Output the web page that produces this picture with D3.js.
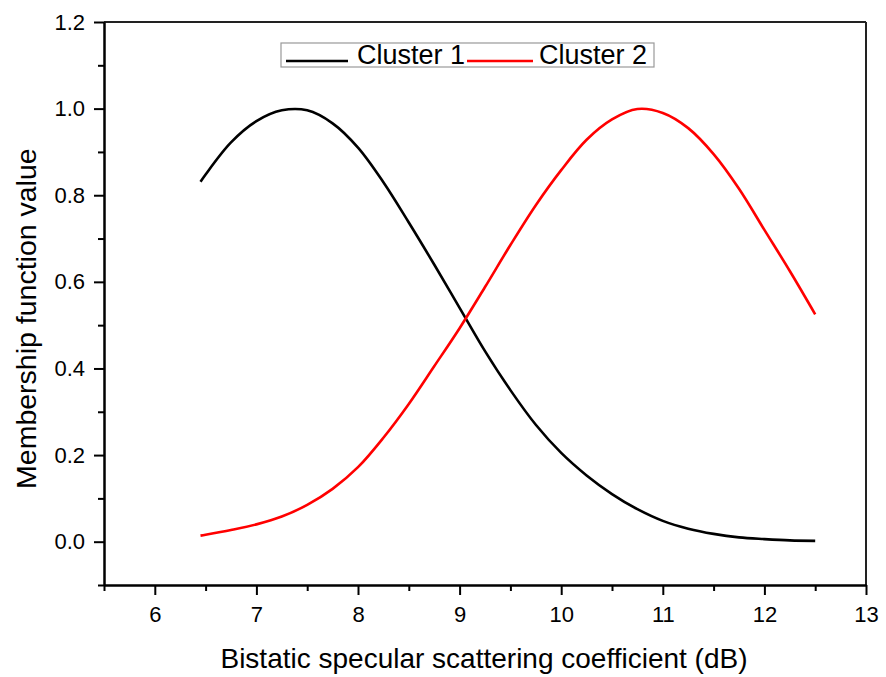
<!DOCTYPE html>
<html>
<head>
<meta charset="utf-8">
<title>Membership function value</title>
<style>
  body { margin: 0; background: #fff; }
  svg text { font-family: "Liberation Sans", Arial, sans-serif; fill: #000; }
  .axis path { stroke: #000; stroke-width: 2; }
  .axis line { stroke: #000; stroke-width: 2; }
</style>
</head>
<body>
<script src="https://cdn.jsdelivr.net/npm/d3@7"></script>
<script>
  // values
  var xValues = [6.45, 6.5, 6.75, 7.0, 7.25, 7.5, 7.75, 8.0, 8.25, 8.5, 8.75, 9.0, 9.25, 9.5, 9.75,
                 10.0, 10.25, 10.5, 10.75, 11.0, 11.25, 11.5, 11.75, 12.0, 12.25, 12.5];
  var cluster1 = [0.831, 0.848, 0.922, 0.971, 0.996, 0.996, 0.966, 0.910, 0.830, 0.737, 0.640, 0.540, 0.440, 0.350, 0.270,
                  0.205, 0.153, 0.110, 0.075, 0.048, 0.030, 0.018, 0.010, 0.006, 0.003, 0.002];
  var cluster2 = [0.014, 0.016, 0.027, 0.040, 0.058, 0.085, 0.122, 0.172, 0.240, 0.318, 0.405, 0.493, 0.588, 0.685, 0.777,
                  0.858, 0.928, 0.975, 0.999, 0.990, 0.955, 0.895, 0.815, 0.720, 0.625, 0.525];
  var seriesNames = ["Cluster 1", "Cluster 2"];
  var seriesColors = ["#000000", "#ff0000"];
  var xMajor = [6, 7, 8, 9, 10, 11, 12, 13];
  var xMinor = [5.5, 6.5, 7.5, 8.5, 9.5, 10.5, 11.5, 12.5];
  var yMajor = [0.0, 0.2, 0.4, 0.6, 0.8, 1.0, 1.2];
  var yMinor = [-0.1, 0.1, 0.3, 0.5, 0.7, 0.9, 1.1];

  var W = 886, H = 677;
  var margin = {top: 22, right: 20, bottom: 92, left: 104};
  var width = W - margin.left - margin.right,
      height = H - margin.top - margin.bottom;

  var x = d3.scaleLinear().domain([5.5, 13]).range([0, width]);
  var y = d3.scaleLinear().domain([-0.1, 1.2]).range([height, 0]);

  var svg = d3.select("body").append("svg")
      .attr("width", W)
      .attr("height", H);
  var g = svg.append("g")
      .attr("transform", "translate(" + margin.left + "," + margin.top + ")");

  // frame (top and right)
  g.append("line").attr("x1", 0).attr("x2", width).attr("y1", 0).attr("y2", 0)
    .attr("stroke", "#222").attr("stroke-width", 2);
  g.append("line").attr("x1", width).attr("x2", width).attr("y1", 0).attr("y2", height)
    .attr("stroke", "#222").attr("stroke-width", 2);

  // minor ticks
  g.append("g").attr("class", "axis")
    .attr("transform", "translate(0," + height + ")")
    .call(d3.axisBottom(x).tickValues(xMinor).tickSize(6).tickSizeOuter(0).tickFormat(""));
  g.append("g").attr("class", "axis")
    .call(d3.axisLeft(y).tickValues(yMinor).tickSize(6).tickSizeOuter(0).tickFormat(""));

  // major ticks
  var xAxis = g.append("g").attr("class", "axis")
    .attr("transform", "translate(0," + height + ")")
    .call(d3.axisBottom(x).tickValues(xMajor).tickSize(10).tickSizeOuter(0).tickPadding(11).tickFormat(d3.format("d")));
  var yAxis = g.append("g").attr("class", "axis")
    .call(d3.axisLeft(y).tickValues(yMajor).tickSize(10).tickSizeOuter(0).tickPadding(9).tickFormat(d3.format(".1f")));
  xAxis.selectAll("text").style("font-size", "22px").style("font-family", "'Liberation Sans', Arial, sans-serif");
  yAxis.selectAll("text").style("font-size", "22px").style("font-family", "'Liberation Sans', Arial, sans-serif");

  // curves
  var allSeries = [cluster1, cluster2];
  var line = d3.line()
      .x(function (d, i) { return x(xValues[i]); })
      .y(function (d) { return y(d); })
      .curve(d3.curveCatmullRom.alpha(0.5));
  allSeries.forEach(function (s, k) {
    g.append("path")
      .datum(s)
      .attr("fill", "none")
      .attr("stroke", seriesColors[k])
      .attr("stroke-width", 2.6)
      .attr("d", line);
  });

  // legend
  var leg = g.append("g").attr("transform", "translate(" + (281 - margin.left) + "," + (43 - margin.top) + ")");
  leg.append("rect").attr("width", 373).attr("height", 24)
    .attr("fill", "#fff").attr("stroke", "#999").attr("stroke-width", 1.2);
  var legX = [[5, 67, 76], [186, 252, 258]];
  seriesNames.forEach(function (name, k) {
    leg.append("line").attr("x1", legX[k][0]).attr("x2", legX[k][1]).attr("y1", 18).attr("y2", 18)
      .attr("stroke", seriesColors[k]).attr("stroke-width", 2.6);
    leg.append("text").attr("x", legX[k][2]).attr("y", 21)
      .style("font-size", "27px").text(name);
  });

  // axis titles
  svg.append("text")
    .attr("x", 484).attr("y", 668)
    .attr("text-anchor", "middle").style("font-size", "28px")
    .text("Bistatic specular scattering coefficient (dB)");
  svg.append("text")
    .attr("transform", "translate(36," + (margin.top + y(0.515)) + ") rotate(-90)")
    .attr("text-anchor", "middle").style("font-size", "28.5px")
    .text("Membership function value");
</script>
</body>
</html>
